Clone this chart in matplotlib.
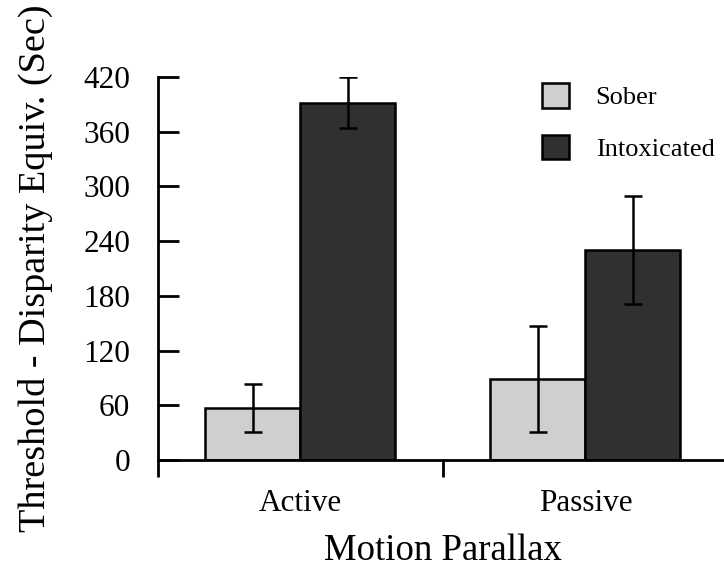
import matplotlib
matplotlib.use("Agg")
import matplotlib.pyplot as plt
import numpy as np

plt.rcParams["font.family"] = ["Liberation Serif", "DejaVu Serif"]

# --- data ---
conditions = ["Active", "Passive"]
sober = [57, 89]
sober_err = [26, 58]
intoxicated = [392, 230]
intoxicated_err = [28, 59]
y_ticks = [0, 60, 120, 180, 240, 300, 360, 420]

# --- figure ---
fig = plt.figure(figsize=(7.24, 5.69), dpi=100)
ax = fig.add_axes([0.2182, 0.1916, 0.7873, 0.6731])

x = np.arange(len(conditions))
width = 1 / 3
err_kw = dict(ecolor="black", elinewidth=1.8, capsize=6.5, capthick=1.8)

ax.bar(x - width / 2, sober, width, yerr=sober_err, color="#cfcfcf",
       edgecolor="black", linewidth=1.8, label="Sober", error_kw=err_kw,
       zorder=2)
ax.bar(x + width / 2, intoxicated, width, yerr=intoxicated_err,
       color="#303030", edgecolor="black", linewidth=1.8,
       label="Intoxicated", error_kw=err_kw, zorder=2)

ax.set_xlim(-0.5, 1.5)
ax.set_ylim(0, 420)

# --- spines ---
ax.spines["top"].set_visible(False)
ax.spines["right"].set_visible(False)
ax.spines["left"].set_linewidth(2)
ax.spines["bottom"].set_linewidth(2)

# --- ticks ---
ax.set_yticks(y_ticks)
ax.tick_params(axis="y", direction="in", length=15, width=2, pad=20,
               labelsize=22.5)
ax.set_xticks(x)
ax.set_xticklabels(conditions)
ax.tick_params(axis="x", which="major", length=0, pad=21, labelsize=22.5)
ax.set_xticks([-0.5, 0.5, 1.5], minor=True)
ax.tick_params(axis="x", which="minor", direction="out", length=12,
               width=2)

ax.set_ylabel("Threshold - Disparity Equiv. (Sec)", fontsize=27.5, labelpad=22)
ax.set_xlabel("Motion Parallax", fontsize=26.5, labelpad=11)

# --- legend ---
ax.legend(loc="upper left", bbox_to_anchor=(0.748, 0.854),
          bbox_transform=fig.transFigure, frameon=False, fontsize=19,
          handlelength=1.05, handleheight=1.05, handletextpad=1.0,
          labelspacing=0.97, borderpad=0, borderaxespad=0)

fig.savefig("out.png", dpi=100, facecolor="white")
